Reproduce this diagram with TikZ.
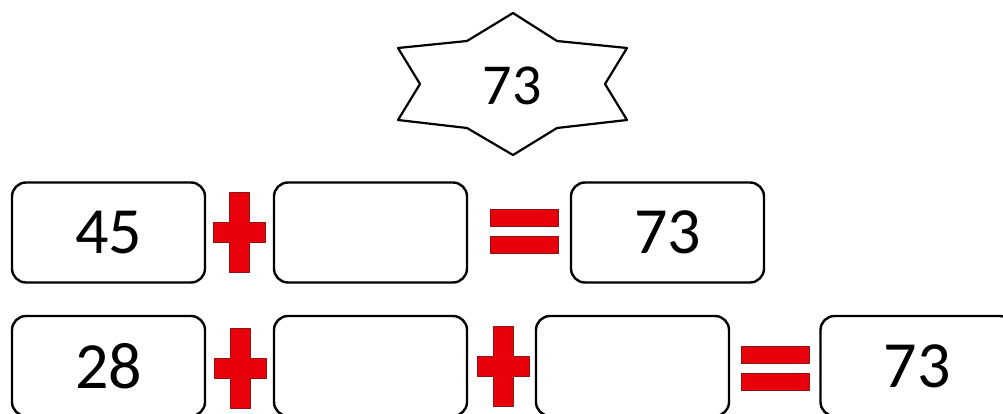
\documentclass[tikz,border=0pt]{standalone}
\usepackage{fontspec}
\setmainfont{Carlito}
\definecolor{signred}{RGB}{232,0,10}
\definecolor{signedge}{RGB}{140,20,20}
\begin{document}
\begin{tikzpicture}[x=1pt,y=-1pt,line join=round,
  numbox/.style={draw,line width=2.4pt,rounded corners=14pt,minimum width=193pt,minimum height=100pt,inner sep=0pt,font=\fontsize{66}{66}\selectfont},
  sign/.style={fill=signred,draw=signedge,line width=0.8pt}]
\useasboundingbox (0,0) rectangle (1003,414);
% target number
\draw[line width=2.2pt,fill=white] (513,13)--(557,41)--(627,48)--(605,84)--(627,120)--(557,128)--(513,155)--(467,128)--(398,120)--(420,84)--(398,48)--(467,41)--cycle;
\node[font=\fontsize{58}{58}\selectfont] (goal) at (512,86) {73};
% first row
\node[numbox] (a1) at (108.5,232.5) {45};
\node[numbox] (a2) at (370.5,232.5) {};
\node[numbox] (a3) at (667.5,232.5) {73};
% second row
\node[numbox] (b1) at (108.5,366) {28};
\node[numbox] (b2) at (370.5,366) {};
\node[numbox] (b3) at (632.5,366) {};
\node[numbox] (b4) at (917,366) {73};
% plus signs
\foreach \x/\y in {239/232.5,240/368,503/366}
  \draw[sign] (\x-10,\y-40)--(\x+10,\y-40)--(\x+10,\y-10)--(\x+26,\y-10)--(\x+26,\y+10)--(\x+10,\y+10)--(\x+10,\y+40)--(\x-10,\y+40)--(\x-10,\y+10)--(\x-26,\y+10)--(\x-26,\y-10)--(\x-10,\y-10)--cycle;
% equals signs
\foreach \x/\y in {524/231,775/368.5}{
  \draw[sign] (\x-34,\y-22) rectangle (\x+34,\y-5);
  \draw[sign] (\x-34,\y+5) rectangle (\x+34,\y+22);
}
\end{tikzpicture}
\end{document}
